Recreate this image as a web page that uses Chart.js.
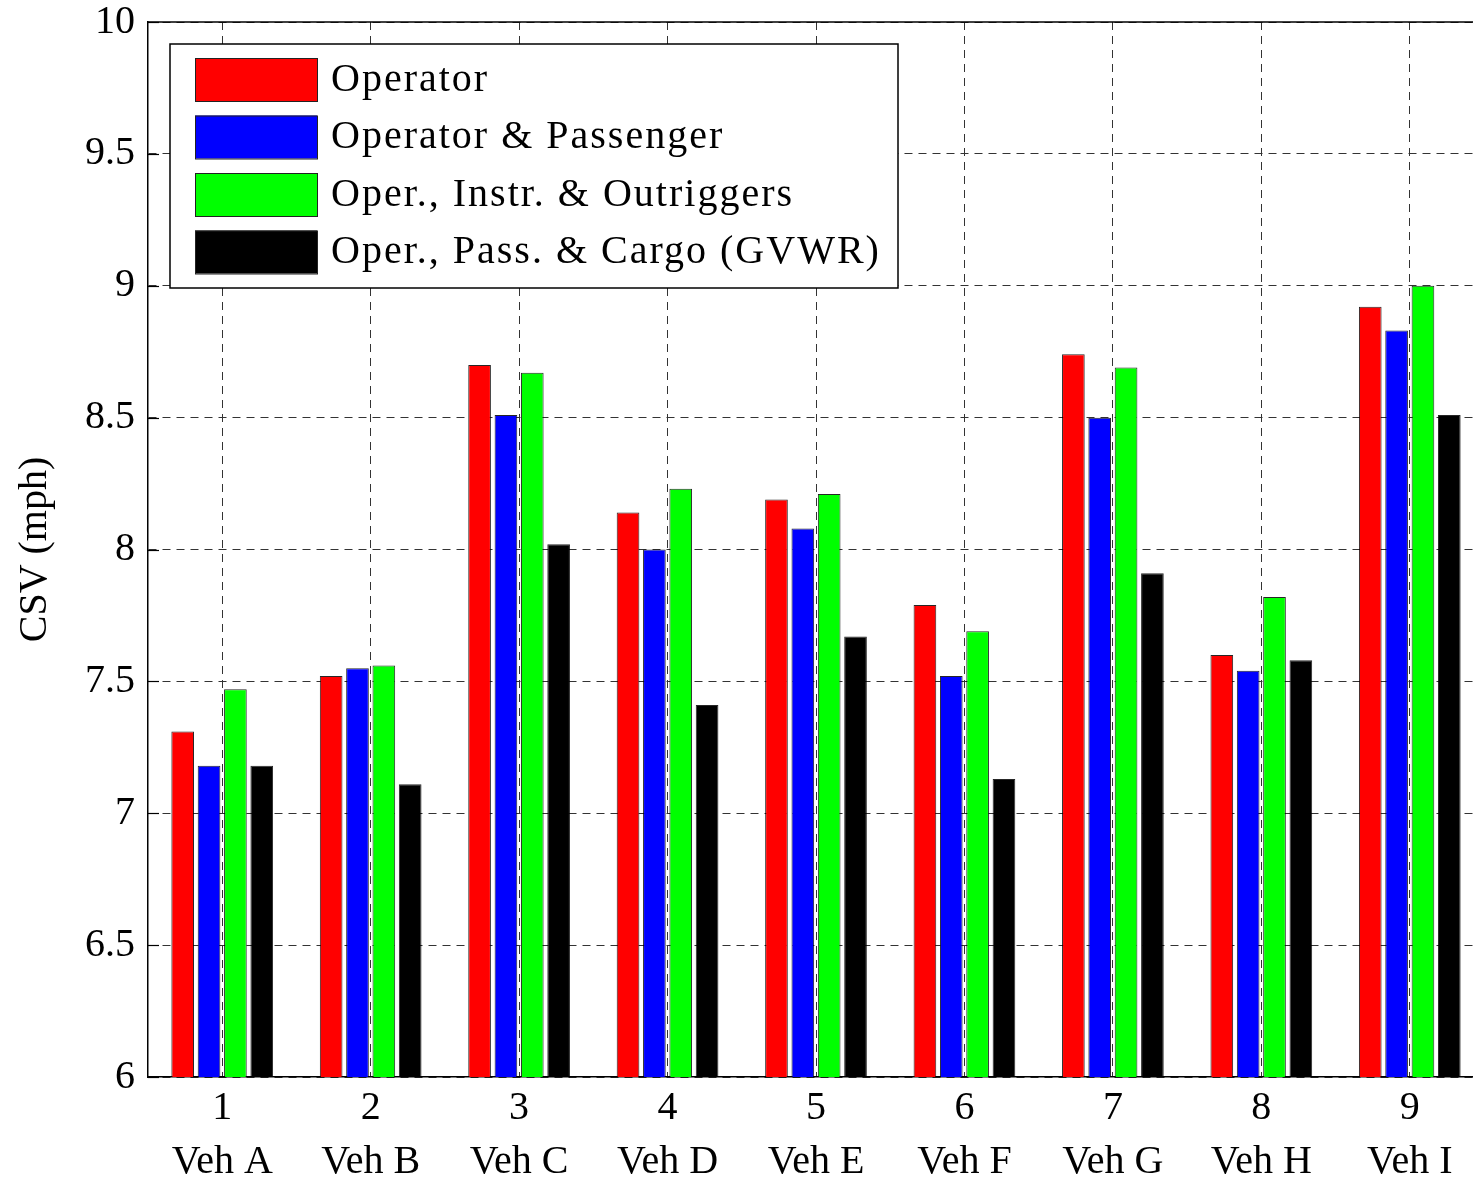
<!DOCTYPE html>
<html>
<head>
<meta charset="utf-8">
<script src="https://cdn.jsdelivr.net/npm/chart.js@4.4.0/dist/chart.umd.min.js"></script>
<style>
  html, body { margin: 0; padding: 0; background: #fff; overflow: hidden; }
  #wrap { width: 1473px; height: 1185px; overflow: hidden; }
</style>
</head>
<body>
<div id="wrap"><canvas id="csvChart" width="1500" height="1185"></canvas></div>
<script>
// vehicle categories (tick number + name)
const tickNumbers = ['1', '2', '3', '4', '5', '6', '7', '8', '9'];
const vehicles = ['Veh A', 'Veh B', 'Veh C', 'Veh D', 'Veh E', 'Veh F', 'Veh G', 'Veh H', 'Veh I'];

const seriesNames = [
    'Operator',
    'Operator & Passenger',
    'Oper., Instr. & Outriggers',
    'Oper., Pass. & Cargo (GVWR)'
];

// CSV in mph
const operator = [7.31, 7.52, 8.70, 8.14, 8.19, 7.79, 8.74, 7.60, 8.92];
const operatorPassenger = [7.18, 7.55, 8.51, 8.00, 8.08, 7.52, 8.50, 7.54, 8.83];
const operInstrOutriggers = [7.47, 7.56, 8.67, 8.23, 8.21, 7.69, 8.69, 7.82, 9.00];
const operPassCargo = [7.18, 7.11, 8.02, 7.41, 7.67, 7.13, 7.91, 7.58, 8.51];

const yTicks = [6, 6.5, 7, 7.5, 8, 8.5, 9, 9.5, 10];

const colors = ['#ff0000', '#0000ff', '#00ff00', '#000000'];
const FONT = '"Liberation Serif", "Times New Roman", serif';

const labels = tickNumbers.map((n, i) => [n, vehicles[i]]);
const seriesData = [operator, operatorPassenger, operInstrOutriggers, operPassCargo];

// legend inside the axes, plus top border and inner y ticks
const matlabBits = {
    id: 'matlabBits',
    afterDraw(chart) {
        const ctx = chart.ctx;
        const area = chart.chartArea;
        const y = chart.scales.y;

        ctx.save();
        ctx.strokeStyle = '#000';
        ctx.lineWidth = 1.5;
        ctx.beginPath();
        ctx.moveTo(area.left, area.top);
        ctx.lineTo(area.right, area.top);
        ctx.stroke();

        ctx.lineWidth = 1.2;
        yTicks.forEach(v => {
            const py = Math.round(y.getPixelForValue(v)) + 0.5;
            ctx.beginPath();
            ctx.moveTo(area.left, py);
            ctx.lineTo(area.left + 11, py);
            ctx.stroke();
        });

        // legend box
        const bx = area.left + 22, by = area.top + 22, bw = 728, bh = 244;
        ctx.fillStyle = '#fff';
        ctx.fillRect(bx, by, bw, bh);
        ctx.strokeStyle = '#000';
        ctx.lineWidth = 1.5;
        ctx.strokeRect(bx, by, bw, bh);

        ctx.font = '40px ' + FONT;
        ctx.textBaseline = 'middle';
        ctx.textAlign = 'left';
        if ('letterSpacing' in ctx) ctx.letterSpacing = '2px';
        chart.data.datasets.forEach((ds, i) => {
            const cy = by + 35 + i * 57.5;
            ctx.fillStyle = ds.backgroundColor;
            ctx.fillRect(bx + 25, cy - 21, 122, 43);
            ctx.strokeStyle = '#222';
            ctx.lineWidth = 1;
            ctx.strokeRect(bx + 25.5, cy - 20.5, 122, 43);
            ctx.fillStyle = '#000';
            ctx.fillText(ds.label, bx + 161, cy + 1);
        });
        ctx.restore();
    }
};

const ctx = document.getElementById('csvChart').getContext('2d');
const chart = new Chart(ctx, {
    type: 'bar',
    data: {
        labels: labels,
        datasets: seriesNames.map((name, i) => ({
            label: name,
            data: seriesData[i],
            backgroundColor: colors[i],
            borderColor: 'rgba(0,0,0,0.85)',
            borderWidth: 1,
            categoryPercentage: 0.71,
            barPercentage: 0.86
        }))
    },
    options: {
        responsive: false,
        animation: false,
        devicePixelRatio: 1,
        layout: { padding: { left: 0, top: 22, right: 16, bottom: 0 } },
        plugins: {
            legend: { display: false },
            tooltip: { enabled: false }
        },
        scales: {
            x: {
                grid: {
                    offset: false,
                    color: '#333',
                    lineWidth: 1,
                    drawTicks: false
                },
                border: { display: true, color: '#000', width: 1.5, dash: [8, 6] },
                ticks: {
                    color: '#000',
                    font: { family: FONT, size: 40, lineHeight: 1.35 },
                    padding: 4,
                    maxRotation: 0,
                    autoSkip: false
                },
                afterFit(scale) {
                    scale.height = 108;
                    scale.paddingLeft = 0;
                    scale.paddingRight = 0;
                }
            },
            y: {
                min: 6,
                max: 10,
                afterBuildTicks(scale) {
                    scale.ticks = yTicks.map(v => ({ value: v }));
                },
                grid: {
                    color: '#333',
                    lineWidth: 1,
                    drawTicks: false
                },
                border: { display: true, color: '#000', width: 1.5, dash: [8, 6] },
                ticks: {
                    color: '#000',
                    font: { family: FONT, size: 40 },
                    padding: 13,
                    callback: v => String(v)
                },
                title: {
                    display: true,
                    text: 'CSV (mph)',
                    color: '#000',
                    font: { family: FONT, size: 40 },
                    padding: { top: 11, bottom: 0 }
                },
                afterFit(scale) {
                    scale.width = 148;
                    scale.paddingTop = 0;
                    scale.paddingBottom = 0;
                }
            }
        }
    },
    plugins: [matlabBits]
});
</script>
</body>
</html>
